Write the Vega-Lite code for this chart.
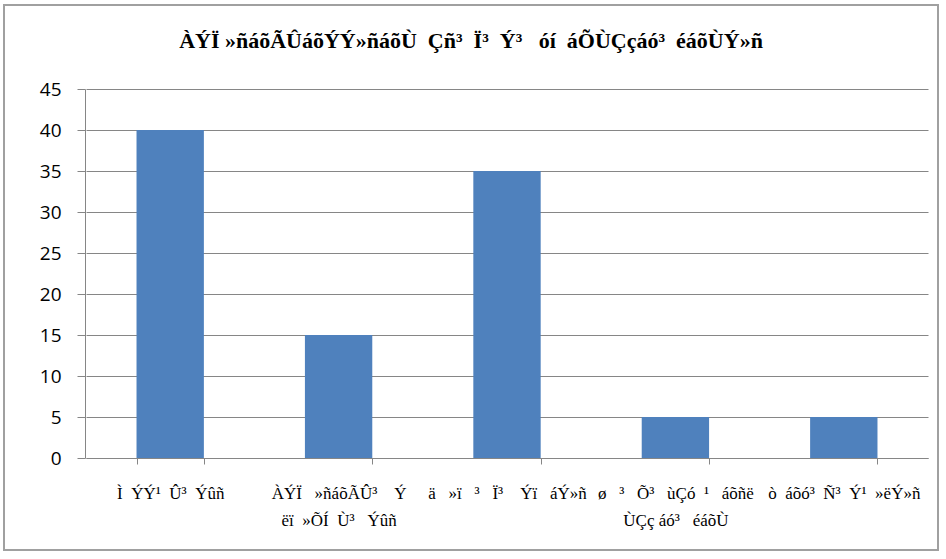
{
  "$schema": "https://vega.github.io/schema/vega-lite/v6.json",
  "autosize": "none",
  "width": 934,
  "height": 545,
  "padding": {"left": 4, "top": 5, "right": 8, "bottom": 9},
  "background": "white",
  "title": {
    "text": "ÀÝÏ\u00a0»ñáõÃÛáõÝÝ»ñáõÙ\u00a0 Çñ³\u00a0 Ï³\u00a0 Ý³\u00a0\u00a0 óí\u00a0 áÕÙÇçáó³\u00a0 éáõÙÝ»ñ",
    "font": "Liberation Serif",
    "fontSize": 22,
    "fontWeight": "bold",
    "color": "black",
    "anchor": "middle",
    "frame": "group",
    "offset": -48
  },
  "config": {"view": {"stroke": "#a0a0a0", "strokeWidth": 2}},
  "data": {
    "values": [
      {"cat": "Ì\u00a0 ÝÝ¹\u00a0 Û³\u00a0 Ýûñ", "value": 40},
      {"cat": "ÀÝÏ\u00a0\u00a0 »ñáõÃÛ³\u00a0\u00a0\u00a0 Ý|ëï\u00a0 »ÕÍ\u00a0 Ù³\u00a0\u00a0 Ýûñ", "value": 15},
      {"cat": "ä\u00a0\u00a0 »ï\u00a0\u00a0 ³\u00a0\u00a0 Ï³\u00a0\u00a0\u00a0 Ýï\u00a0\u00a0 áÝ»ñ", "value": 35},
      {"cat": "ø\u00a0\u00a0 ³\u00a0\u00a0 Õ³\u00a0\u00a0 ùÇó\u00a0 ¹\u00a0\u00a0 áõñë|ÙÇç áó³\u00a0\u00a0 éáõÙ", "value": 5},
      {"cat": "ò\u00a0 áõó³\u00a0 Ñ³\u00a0 Ý¹\u00a0 »ëÝ»ñ", "value": 5}
    ]
  },
  "mark": {"type": "bar", "color": "#4f81bd"},
  "encoding": {
    "x": {
      "field": "cat",
      "type": "nominal",
      "sort": null,
      "scale": {"range": [82, 924], "paddingInner": 0.6, "paddingOuter": 0.3},
      "axis": {
        "orient": "bottom",
        "offset": -92,
        "title": null,
        "tickBand": "extent",
        "domainColor": "#868686",
        "tickColor": "#868686",
        "tickSize": 6,
        "labelAngle": 0,
        "labelFont": "Liberation Serif",
        "labelFontSize": 17,
        "labelColor": "black",
        "labelBaseline": "top",
        "labelPadding": 21,
        "labelLineHeight": 27,
        "labelLimit": 0,
        "labelExpr": "split(datum.label, '|')"
      }
    },
    "y": {
      "field": "value",
      "type": "quantitative",
      "scale": {"domain": [0, 45], "range": [453, 84], "nice": false, "zero": true},
      "axis": {
        "orient": "left",
        "offset": -81,
        "title": null,
        "values": [0, 5, 10, 15, 20, 25, 30, 35, 40, 45],
        "grid": true,
        "gridColor": "#868686",
        "domainColor": "#868686",
        "tickColor": "#868686",
        "tickSize": 8,
        "labelPadding": 16,
        "labelFont": "Open Sans",
        "labelFontSize": 19,
        "labelColor": "black"
      }
    }
  }
}
